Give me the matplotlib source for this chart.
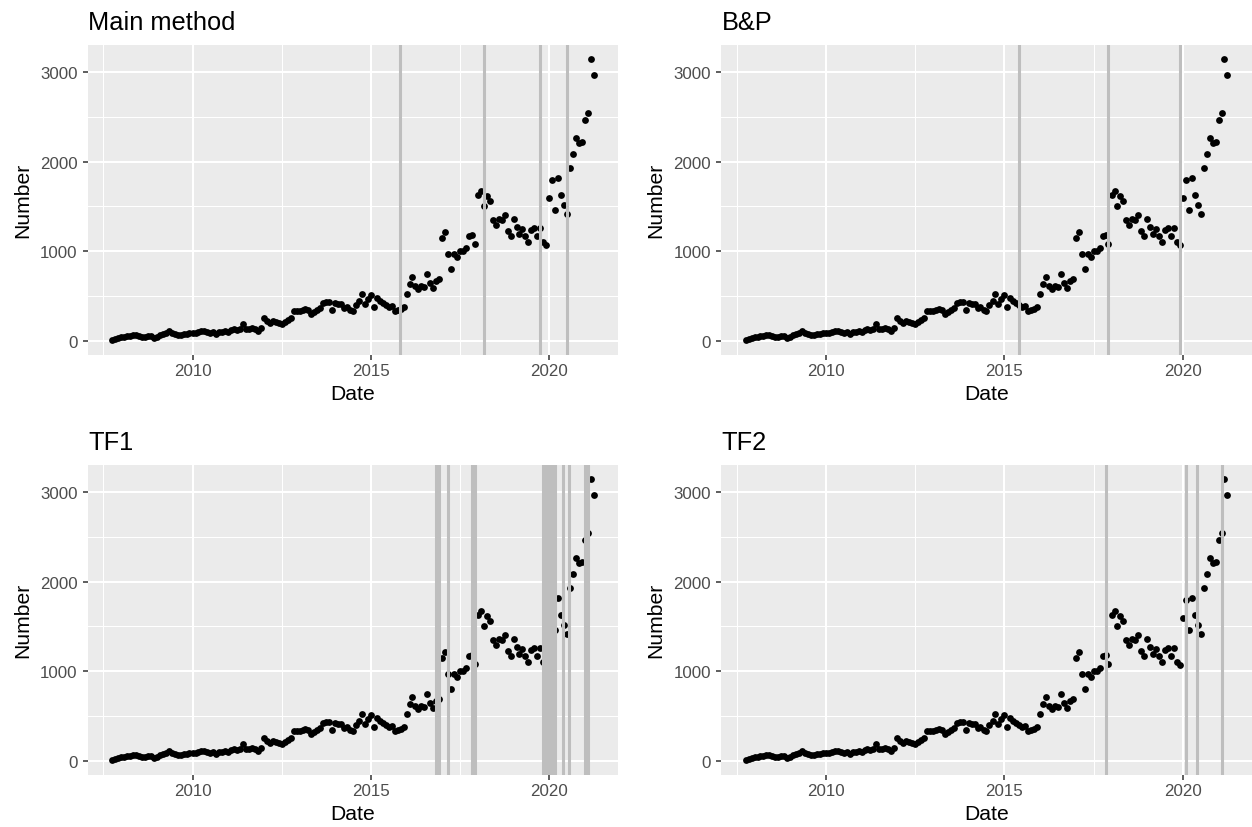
import numpy as np
import pandas as pd
import matplotlib
matplotlib.use("Agg")
import matplotlib.pyplot as plt
import matplotlib.dates as mdates

plt.rcParams['font.family'] = ['Liberation Sans', 'DejaVu Sans']

# monthly counts, Oct 2007 - Apr 2021
dates = pd.date_range("2007-10-01", "2021-04-01", freq="MS")
number = [
    5, 25, 35,
    40, 45, 52, 55, 62, 70, 58, 42, 45, 55, 50, 35,
    48, 60, 75, 90, 105, 88, 72, 68, 70, 75, 80, 88,
    92, 86, 95, 108, 112, 103, 92, 96, 75, 98, 104, 106,
    98, 118, 127, 124, 133, 192, 137, 128, 146, 130, 110, 142,
    252, 222, 200, 222, 212, 198, 190, 205, 238, 255, 337, 333,
    333, 344, 355, 340, 300, 325, 345, 370, 425, 437, 437, 344,
    418, 410, 410, 365, 380, 345, 333, 400, 440, 525, 410, 466,
    515, 380, 477, 440, 420, 400, 375, 392, 328, 343, 360, 380,
    528, 636, 708, 614, 576, 610, 599, 745, 648, 595, 670, 692,
    1142, 1209, 966, 799, 974, 937, 1004, 1004, 1041, 1172, 1183, 1075,
    1627, 1671, 1507, 1619, 1556, 1347, 1295, 1354, 1347, 1403, 1224, 1168,
    1358, 1265, 1194, 1246, 1172, 1108, 1235, 1261, 1172, 1261, 1108, 1071,
    1593, 1794, 1463, 1821, 1630, 1518, 1414, 1929, 2089, 2261, 2205, 2216,
    2462, 2540, 3148, 2969,
]

# detected break dates for each method
breaks_main = ["2015-10-27", "2018-03-01", "2019-10-01", "2020-07-01"]
breaks_bp = ["2015-06-01", "2017-11-28", "2019-12-01"]
breaks_tf1 = ["2016-11-01", "2016-12-01", "2017-02-23", "2017-11-01", "2017-12-01",
              "2019-11-01", "2019-12-01", "2020-01-01", "2020-02-01", "2020-03-01",
              "2020-05-20", "2020-07-20", "2021-01-01", "2021-02-01"]
breaks_tf2 = ["2017-11-01", "2020-02-01", "2020-05-25", "2021-02-01"]

panels = [
    ("Main method", breaks_main),
    ("B&P", breaks_bp),
    ("TF1", breaks_tf1),
    ("TF2", breaks_tf2),
]

W, H = 1252, 828
fig = plt.figure(figsize=(W / 100, H / 100), dpi=100)

# panel boxes in pixels: left, top, right, bottom
boxes = [
    (88, 45.5, 618, 355.5),
    (721.5, 45.5, 1251.5, 355.5),
    (88, 465.5, 618, 775.5),
    (721.5, 465.5, 1251.5, 775.5),
]

x = mdates.date2num(dates)
y = np.array(number)
xr = x.max() - x.min()
yr = y.max() - y.min()
xlim = (x.min() - 0.05 * xr, x.max() + 0.05 * xr)
ylim = (y.min() - 0.05 * yr, y.max() + 0.05 * yr)

major_x = mdates.date2num(pd.to_datetime(["2010-01-01", "2015-01-01", "2020-01-01"]))
minor_x = mdates.date2num(pd.to_datetime(["2007-07-02", "2012-07-02", "2017-07-02"]))

for (title, brk), (l, t, r, b) in zip(panels, boxes):
    ax = fig.add_axes([l / W, 1 - b / H, (r - l) / W, (b - t) / H])
    ax.set_facecolor("#EBEBEB")
    for s in ax.spines.values():
        s.set_visible(False)

    ax.set_xticks(major_x)
    ax.set_xticklabels(["2010", "2015", "2020"])
    ax.set_xticks(minor_x, minor=True)
    ax.set_yticks([0, 1000, 2000, 3000])
    ax.set_yticks([500, 1500, 2500], minor=True)

    ax.grid(which="major", color="white", linewidth=1.5)
    ax.grid(which="minor", color="white", linewidth=0.75)
    ax.set_axisbelow(True)

    ax.scatter(x, y, s=24, color="black", linewidths=0, zorder=2)
    for d in brk:
        ax.axvline(mdates.date2num(pd.Timestamp(d)), color="#BEBEBE",
                   linewidth=2.2, zorder=3)

    ax.set_xlim(xlim)
    ax.set_ylim(ylim)

    ax.tick_params(which="major", length=3.6, width=1.1, color="#333333",
                   labelsize=12.2, labelcolor="#4D4D4D")
    ax.tick_params(axis="x", pad=2.8)
    ax.tick_params(axis="y", pad=3.8)
    ax.tick_params(which="minor", length=0)

    ax.set_xlabel("Date", fontsize=15.2, labelpad=4)
    ax.set_ylabel("Number", fontsize=15.2, labelpad=6)
    ax.set_title(title, loc="left", fontsize=18.3, pad=11)

fig.savefig("out.png", dpi=100, facecolor="white")
